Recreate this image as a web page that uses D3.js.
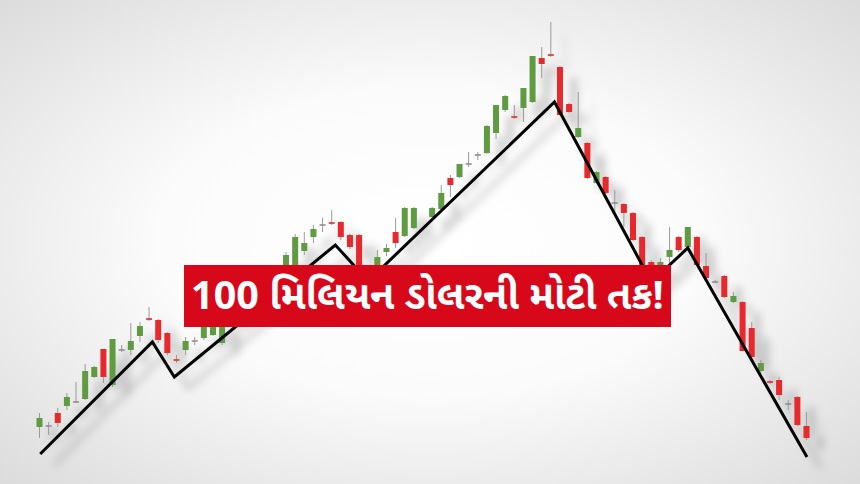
<!DOCTYPE html>
<html>
<head>
<meta charset="utf-8">
<script src="https://cdn.jsdelivr.net/npm/d3@7"></script>
<style>
  html, body { margin: 0; padding: 0; background: #fff; }
  svg { display: block; }
</style>
</head>
<body>
<svg id="chart" width="860" height="484"></svg>
<script>
// ---- data ----
const days  = [0,1,2,3,4,5,6,7,8,9,10,11,12,13,14,15,16,17,18,19,20,21,22,23,24,25,26,27,28,29,30,31,32,33,34,35,36,37,38,39,40,41,43,44,45,46,47,48,49,50,51,52,53,54,55,56,57,58,59,60,61,62,63,64,65,66,67,68,69,70,71,72,73,74,75,76,77,78,79,80,81,82,83,84];
const open  = [43,44,57,64,68,71,93,121,85,120,120,134,151,150,137,110,120,129,132,135,127,152,172,162,170,185,180,195,202,219,233,245,247,248,235,235,198,203,218,238,234,242,253,261,292,293,306,315,317,337,360,353,362,368,412,415,403,366,333,327,287,293,267,266,257,233,208,202,213,233,223,233,204,188,194,168,168,142,99,88,90,66,73,44];
const high  = [57,48,62,77,88,106,104,121,131,125,147,148,163,151,138,115,133,133,148,154,158,172,176,182,190,190,204,218,236,238,245,252,260,249,236,236,200,220,226,252,263,263,263,285,295,306,318,318,345,365,375,365,382,414,423,448,404,367,378,328,299,294,280,267,258,234,210,212,243,234,243,234,217,190,195,178,169,148,110,90,93,70,74,58];
const low   = [32,35,43,60,67,70,92,87,83,118,115,128,149,127,115,107,115,125,130,134,125,148,156,160,168,180,178,193,200,215,227,238,245,230,221,195,180,200,214,222,233,241,252,260,273,292,303,310,316,331,358,351,348,367,392,413,354,357,332,291,286,276,257,243,229,202,188,198,207,218,222,204,190,187,172,167,119,112,97,86,70,60,44,30];
const close = [52,44,47,73,68,99,103,93,131,120,129,144,150,130,117,109,129,129,143,148,152,170,158,180,188,185,200,215,233,227,241,245,246,233,223,198,188,213,222,227,262,262,262,277,285,306,306,315,344,365,374,352,382,414,406,414,355,358,342,292,298,277,267,257,230,204,192,208,220,220,243,205,192,188,173,174,119,113,107,87,75,66,45,32];

// zigzag trend line (day, price)
const trendDay   = [0.08, 12.36, 14.77, 32.4, 36.0, 56.4, 67.0, 71.0, 84.05];
const trendPrice = [16, 128, 93, 225, 189, 368, 188, 222, 13];

const bannerText = "100 મિલિયન ડોલરની મોટી તક!";

// ---- drawing ----
const W = 860, H = 484;
const svg = d3.select("#chart");
const defs = svg.append("defs");

const grad = defs.append("radialGradient").attr("id", "bg")
  .attr("cx", "50%").attr("cy", "50%").attr("r", "70%");
grad.append("stop").attr("offset", "0%").attr("stop-color", "#ffffff");
grad.append("stop").attr("offset", "45%").attr("stop-color", "#fbfbfb");
grad.append("stop").attr("offset", "100%").attr("stop-color", "#dcdcdc");

const blur = defs.append("filter").attr("id", "shadowBlur")
  .attr("x", "-20%").attr("y", "-20%").attr("width", "140%").attr("height", "140%");
blur.append("feGaussianBlur").attr("stdDeviation", 4.5);

svg.append("rect").attr("width", W).attr("height", H).attr("fill", "url(#bg)");

const x = d3.scaleLinear().domain([0, 84]).range([39.5, 806.5]);
const y = d3.scaleLinear().domain([0, 420]).range([470, 50]);

const candles = days.map((d, i) => ({ d, o: open[i], h: high[i], l: low[i], c: close[i] }));
const trend = trendDay.map((d, i) => [d, trendPrice[i]]);

const GREEN = "#5e9b41", RED = "#e7282c", NEUTRAL = "#8f8f8f", WICK = "#9a9a9a";
const bodyW = 6;
const colorOf = c => c.c > c.o ? GREEN : (c.c < c.o ? RED : NEUTRAL);

function drawChart(g, shadow) {
  const line = d3.line().x(p => x(p[0])).y(p => y(p[1]));
  g.append("g").selectAll("line").data(candles).join("line")
    .attr("x1", c => x(c.d)).attr("x2", c => x(c.d))
    .attr("y1", c => y(c.h)).attr("y2", c => y(c.l))
    .attr("stroke", shadow ? "#666" : WICK).attr("stroke-width", 1);
  g.append("g").selectAll("rect").data(candles).join("rect")
    .attr("x", c => x(c.d) - bodyW / 2)
    .attr("width", bodyW)
    .attr("y", c => Math.abs(c.c - c.o) < 1.5 ? y(Math.max(c.o, c.c)) - 0.8 : y(Math.max(c.o, c.c)))
    .attr("height", c => Math.max(1.6, Math.abs(y(c.o) - y(c.c))))
    .attr("fill", c => shadow ? "#666" : colorOf(c));
  g.append("path").datum(trend)
    .attr("d", line).attr("fill", "none")
    .attr("stroke", shadow ? "#555" : "#000")
    .attr("stroke-width", 3).attr("stroke-linejoin", "miter").attr("stroke-linecap", "butt");
}

const shadowG = svg.append("g")
  .attr("transform", "translate(14,11)")
  .attr("filter", "url(#shadowBlur)")
  .attr("opacity", 0.38);
drawChart(shadowG, true);
drawChart(svg.append("g"), false);

// banner
const bx = x.invert(184), bx2 = x.invert(671);
svg.append("rect")
  .attr("x", x(bx)).attr("width", x(bx2) - x(bx))
  .attr("y", 265).attr("height", 62)
  .attr("fill", "#d8081b");
svg.append("text")
  .attr("x", (x(bx) + x(bx2)) / 2).attr("y", 309)
  .attr("text-anchor", "middle")
  .attr("fill", "#ffffff")
  .attr("font-family", "'Noto Sans Gujarati', 'Lohit Gujarati', 'Noto Sans', 'DejaVu Sans', sans-serif")
  .attr("font-weight", 700)
  .attr("font-size", 39.5)
  .text(bannerText);
</script>
</body>
</html>
